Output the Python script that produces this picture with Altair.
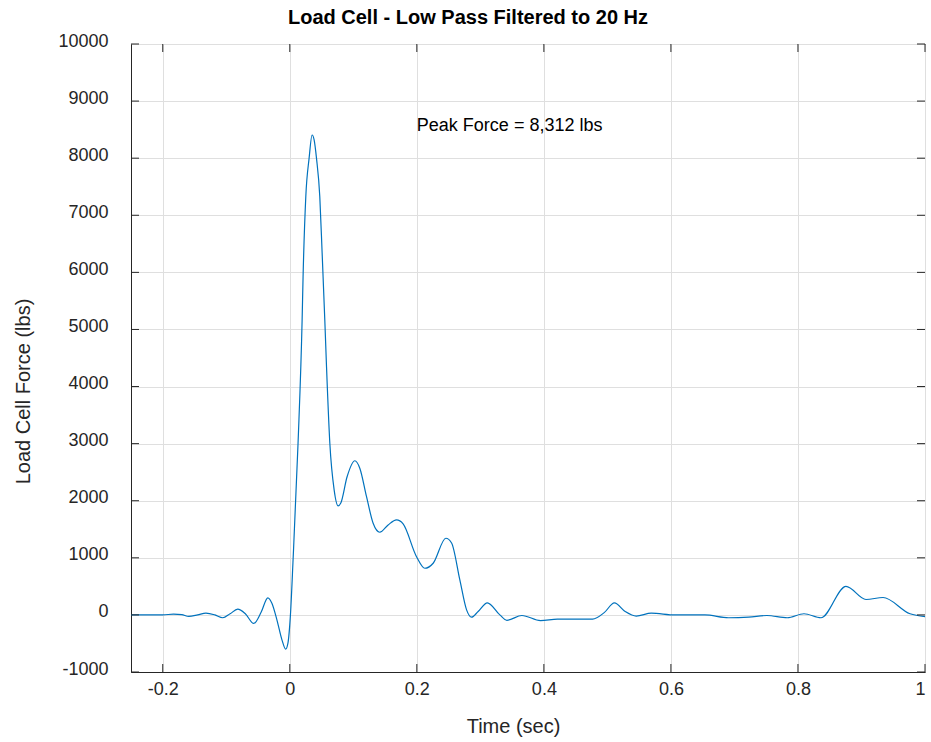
import altair as alt
import pandas as pd

# ---- data ----
time_s = [-0.250, -0.220, -0.200, -0.183, -0.170, -0.159, -0.145, -0.132, -0.118, -0.1055,
          -0.094, -0.082, -0.070, -0.0567, -0.045, -0.0346, -0.028, -0.020, -0.012, -0.0065,
          -0.003, 0.001, 0.0053, 0.013, 0.0194, 0.0209, 0.0252, 0.0304, 0.0351, 0.0383,
          0.0420, 0.0472, 0.0509, 0.0551, 0.0578, 0.0630, 0.0698, 0.0761, 0.0803, 0.0902,
          0.1024, 0.1102, 0.1208, 0.1312, 0.1417, 0.1548, 0.1680, 0.1784, 0.1995, 0.2126,
          0.2257, 0.2457, 0.2547, 0.2677, 0.2783, 0.2861, 0.2965, 0.3110, 0.3307, 0.3417,
          0.3654, 0.3948, 0.4213, 0.4767, 0.4950, 0.5110, 0.5280, 0.5454, 0.5691, 0.6063,
          0.6535, 0.6907, 0.7224, 0.7512, 0.7832, 0.8095, 0.8362, 0.8756, 0.9071, 0.9339,
          0.9764, 1.000]
force_lbs = [0, 0, 0, 15, 5, -25, 0, 30, 0, -50,
             20, 100, 20, -150, 50, 300, 200, -100, -450, -600,
             -500, 0, 1000, 3010, 5166, 5925, 7330, 8000, 8406, 8320,
             8000, 7330, 6340, 5166, 4350, 3010, 2190, 1910, 1960, 2420,
             2700, 2570, 2070, 1605, 1448, 1576, 1664, 1594, 1020, 817,
             905, 1343, 1260, 613, 88, -40, 60, 212, 0, -95,
             -10, -100, -75, -75, 40, 210, 60, -20, 30, 0,
             0, -50, -40, -10, -50, 20, -50, 500, 270, 305,
             20, -30]

x_ticks = [-0.2, 0, 0.2, 0.4, 0.6, 0.8, 1.0]
y_ticks = [-1000, 0, 1000, 2000, 3000, 4000, 5000, 6000, 7000, 8000, 9000, 10000]

note_text = ["Peak Force = 8,312 lbs"]
note_t = [0.2]
note_f = [8560]

title_text = "Load Cell - Low Pass Filtered to 20 Hz"
x_title = "Time (sec)"
y_title = "Load Cell Force (lbs)"

# ---- layout / style ----
W, H = 794, 628
FONT = "Liberation Sans"
DARK = "#262626"
BLUE = "#0072BD"
TICK = 8

df = pd.DataFrame({"t": time_s, "f": force_lbs})
xt = pd.DataFrame({"t": x_ticks})
yt = pd.DataFrame({"f": y_ticks})
notes = pd.DataFrame({"t": note_t, "f": note_f, "label": note_text})

xs = alt.Scale(domain=[-0.25, 1.0], nice=False, zero=False)
ys = alt.Scale(domain=[-1000, 10000], nice=False, zero=False)

x_axis = alt.Axis(
    values=x_ticks, title=x_title, labelExpr="toString(datum.value)",
    ticks=False, labelPadding=8, titleX=382, titleY=54, titleBaseline="middle",
    titleAlign="center", grid=True)
y_axis = alt.Axis(
    values=y_ticks, title=y_title, labelExpr="toString(datum.value)",
    ticks=False, labelPadding=23, labelOffset=-3,
    titleX=-108, titleY=347, titleBaseline="middle", titleAlign="center",
    titleAngle=-90, grid=True)

X = alt.X("t:Q", scale=xs, axis=x_axis)
Y = alt.Y("f:Q", scale=ys, axis=y_axis)

line = alt.Chart(df).mark_line(color=BLUE, strokeWidth=1.2, interpolate="monotone").encode(
    x=X, y=Y)

bottom_ticks = alt.Chart(xt).mark_rule(color=DARK, strokeWidth=1).encode(
    x=X, y=alt.value(H), y2=alt.value(H - TICK))
top_ticks = alt.Chart(xt).mark_rule(color=DARK, strokeWidth=1).encode(
    x=X, y=alt.value(0), y2=alt.value(TICK))
left_ticks = alt.Chart(yt).mark_rule(color=DARK, strokeWidth=1).encode(
    y=Y, x=alt.value(0), x2=alt.value(TICK))
right_ticks = alt.Chart(yt).mark_rule(color=DARK, strokeWidth=1).encode(
    y=Y, x=alt.value(W), x2=alt.value(W - TICK))

note = alt.Chart(notes).mark_text(
    align="left", baseline="middle", font=FONT, fontSize=18, color="black"
).encode(x=X, y=Y, text="label:N")

chart = alt.layer(line, bottom_ticks, top_ticks, left_ticks, right_ticks, note).properties(
    width=W, height=H,
    title=alt.TitleParams(title_text, font=FONT, fontSize=20, fontWeight="bold",
                          color="black", anchor="middle", dx=-60, offset=4),
    autosize=alt.AutoSizeParams(type="none"),
    padding={"left": 131, "top": 44, "right": 6, "bottom": 70},
).configure(
    background="white",
).configure_view(
    stroke=DARK, strokeWidth=1,
).configure_axis(
    labelFont=FONT, labelFontSize=18, labelColor=DARK,
    titleFont=FONT, titleFontSize=20, titleColor=DARK, titleFontWeight="normal",
    domainColor=DARK, domainWidth=1,
    gridColor="#dfdfdf", gridWidth=1,
)

chart.save("out.html", embed_options={"renderer": "svg", "actions": False})
